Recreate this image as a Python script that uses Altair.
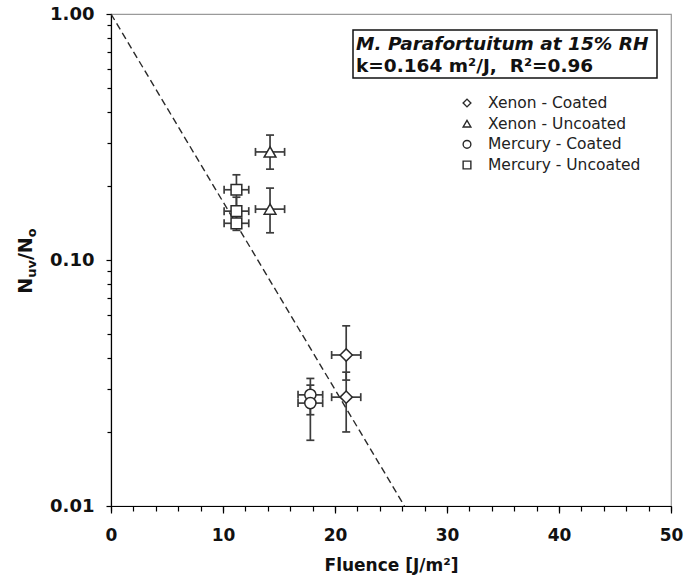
import altair as alt
import pandas as pd

# ---------------- data ----------------
series = ["Xenon - Coated", "Xenon - Coated",
          "Xenon - Uncoated", "Xenon - Uncoated",
          "Mercury - Coated", "Mercury - Coated",
          "Mercury - Uncoated", "Mercury - Uncoated", "Mercury - Uncoated"]
fluence = [21.0, 21.0, 14.2, 14.2, 17.8, 17.8, 11.2, 11.2, 11.2]
fluence_err = [1.3, 1.3, 1.3, 1.3, 1.1, 1.1, 1.1, 1.1, 1.1]
ratio = [0.0411, 0.0277, 0.275, 0.161, 0.0283, 0.0262, 0.193, 0.158, 0.141]
ratio_lo = [0.0325, 0.0200, 0.234, 0.129, 0.0235, 0.0185, 0.165, 0.140, 0.132]
ratio_hi = [0.0540, 0.0350, 0.322, 0.196, 0.0330, 0.0310, 0.222, 0.180, 0.152]

legend_order = ["Xenon - Coated", "Xenon - Uncoated", "Mercury - Coated", "Mercury - Uncoated"]
legend_shapes = ["diamond", "triangle-up", "circle", "square"]
marker_sizes = [150, 115, 185, 90]

fit_fluence = [0.0, 26.2]
fit_ratio = [1.0, 0.01]

x_major = [0, 10, 20, 30, 40, 50]
x_minor = list(range(0, 51, 2))
y_major = [0.01, 0.1, 1.0]
y_minor = [0.02, 0.03, 0.04, 0.05, 0.06, 0.07, 0.08, 0.09,
           0.2, 0.3, 0.4, 0.5, 0.6, 0.7, 0.8, 0.9]

annotation_line1 = "M. Parafortuitum at 15% RH"
annotation_line2 = "k=0.164 m\u00b2/J,\u00a0 R\u00b2=0.96"
x_title = "Fluence [J/m\u00b2]"
# y title pieces: (text, is_subscript)
y_title_parts = [("N", False), ("uv", True), ("/N", False), ("o", True)]

# ---------------- tables ----------------
df = pd.DataFrame({
    "series": series,
    "fluence": fluence,
    "ferr": fluence_err,
    "ratio": ratio,
    "lo": ratio_lo,
    "hi": ratio_hi,
})
df["xlo"] = df["fluence"] - df["ferr"]
df["xhi"] = df["fluence"] + df["ferr"]
fit_df = pd.DataFrame({"fluence": fit_fluence, "ratio": fit_ratio})
legend_df = pd.DataFrame({"label": legend_order})

FONT = "DejaVu Sans"
INK = "#2a2a2a"
BAR = "#3c3c3c"

xscale = alt.Scale(domain=[0, 50], nice=False, zero=False)
yscale = alt.Scale(type="log", domain=[0.01, 1], nice=False)
shape_scale = alt.Scale(domain=legend_order, range=legend_shapes)

# ---------------- layers ----------------
line = alt.Chart(fit_df).mark_line(color=INK, strokeWidth=1.4, strokeDash=[7, 4]).encode(
    x=alt.X("fluence:Q", scale=xscale,
            axis=alt.Axis(orient="bottom", values=x_major, format="d", tickSize=7,
                          labelPadding=14, labelFontSize=17, labelFontWeight="bold",
                          labelFlush=False,
                          title=x_title, titleFontSize=17, titleFontWeight="bold",
                          titleY=51, titleBaseline="top")),
    y=alt.Y("ratio:Q", scale=yscale,
            axis=alt.Axis(orient="left", values=y_major, format=".2f", tickSize=5,
                          labelPadding=12, labelFontSize=18, labelFontWeight="bold",
                          labelFlush=False, title=None)),
)

minor = alt.Chart(fit_df).mark_point(opacity=0).encode(
    x=alt.X("fluence:Q", scale=xscale,
            axis=alt.Axis(orient="bottom", values=x_minor, tickSize=5, labels=False,
                          domain=False, title=None)),
    y=alt.Y("ratio:Q", scale=yscale,
            axis=alt.Axis(orient="left", values=y_minor, tickSize=4, labels=False,
                          domain=False, title=None)),
)

vbar = alt.Chart(df).mark_rule(color=BAR, strokeWidth=1.7).encode(
    x=alt.X("fluence:Q", scale=xscale, axis=None),
    y=alt.Y("lo:Q", scale=yscale, axis=None),
    y2="hi:Q",
)
hbar = alt.Chart(df).mark_rule(color=BAR, strokeWidth=1.7).encode(
    x=alt.X("xlo:Q", scale=xscale, axis=None),
    x2="xhi:Q",
    y=alt.Y("ratio:Q", scale=yscale, axis=None),
)
hcap = "M-1,0L1,0"
vcap = "M0,-1L0,1"


def cap(xf, yf, shape):
    return alt.Chart(df).mark_point(shape=shape, size=64, filled=False, color=BAR,
                                    strokeWidth=1.7, opacity=1).encode(
        x=alt.X(xf, scale=xscale, axis=None),
        y=alt.Y(yf, scale=yscale, axis=None),
    )


caps = [cap("fluence:Q", "lo:Q", hcap), cap("fluence:Q", "hi:Q", hcap),
        cap("xlo:Q", "ratio:Q", vcap), cap("xhi:Q", "ratio:Q", vcap)]

points = alt.Chart(df).mark_point(filled=True, fill="white", stroke=INK, strokeWidth=1.5, opacity=1).encode(
    x=alt.X("fluence:Q", scale=xscale, axis=None),
    y=alt.Y("ratio:Q", scale=yscale, axis=None),
    shape=alt.Shape("series:N", scale=shape_scale, legend=None),
    size=alt.Size("series:N", scale=alt.Scale(domain=legend_order, range=marker_sizes),
                  legend=None),
)

# hand-built legend (rows placed by a point scale in pixel space)
legend_y = alt.Y("label:N", sort=legend_order,
                 scale=alt.Scale(type="point", range=[89, 151], padding=0), axis=None)
legend_sym = alt.Chart(legend_df).mark_point(filled=True, fill="white", stroke=INK,
                                             strokeWidth=1.4, size=60, opacity=1).encode(
    x=alt.value(356), y=legend_y,
    shape=alt.Shape("label:N", scale=shape_scale, legend=None),
)
legend_txt = alt.Chart(legend_df).mark_text(align="left", baseline="middle", font=FONT,
                                            fontSize=15.5, color="#222").encode(
    x=alt.value(377), y=legend_y, text="label:N",
)

one = pd.DataFrame({"k": [0]})
box = alt.Chart(one).mark_rect(fill="white", stroke="#111", strokeWidth=1.5).encode(
    x=alt.value(242), x2=alt.value(546), y=alt.value(16), y2=alt.value(64),
)
txt1 = alt.Chart(one).mark_text(align="left", baseline="middle", font=FONT, fontSize=18.5,
                                fontWeight="bold", fontStyle="italic", color="#111").encode(
    x=alt.value(245), y=alt.value(30), text=alt.value(annotation_line1),
)
txt2 = alt.Chart(one).mark_text(align="left", baseline="middle", font=FONT, fontSize=18.5,
                                fontWeight="bold", color="#111").encode(
    x=alt.value(245), y=alt.value(52), text=alt.value(annotation_line2),
)

# rotated y-axis title assembled from pieces (plot-relative pixel placement)
big, small = 19, 13
adv = {"N": 0.837, "u": 0.712, "v": 0.652, "/": 0.365, "o": 0.687}
widths = [sum(adv[c] for c in t) * (small if s else big) for t, s in y_title_parts]
ystart = 247 + sum(widths) / 2
title_layers = []
pos = ystart
for (t, s), w in zip(y_title_parts, widths):
    title_layers.append(
        alt.Chart(one).mark_text(align="left", baseline="alphabetic", angle=270, font=FONT,
                                 fontSize=small if s else big, fontWeight="bold",
                                 color="#111").encode(
            x=alt.value(-79 + (4 if s else 0)), y=alt.value(pos), text=alt.value(t),
        )
    )
    pos -= w

chart = alt.layer(line, minor, vbar, hbar, *caps, points, box, txt1, txt2,
                  legend_sym, legend_txt, *title_layers).resolve_axis(
    x="independent", y="independent"
).resolve_scale(
    y="independent"
).properties(
    width=560, height=492,
    autosize=alt.AutoSizeParams(type="none"),
    padding={"left": 111, "top": 14, "right": 13, "bottom": 76},
    background="white",
).configure_view(
    stroke="#9a9a9a", strokeWidth=1.2
).configure_axis(
    grid=False, domainColor="black", domainWidth=1.2, tickColor="black", tickWidth=1.2,
    labelFont=FONT, titleFont=FONT, labelColor="#111", titleColor="#111",
)

chart.save("out.html", embed_options={"renderer": "svg", "actions": False})
